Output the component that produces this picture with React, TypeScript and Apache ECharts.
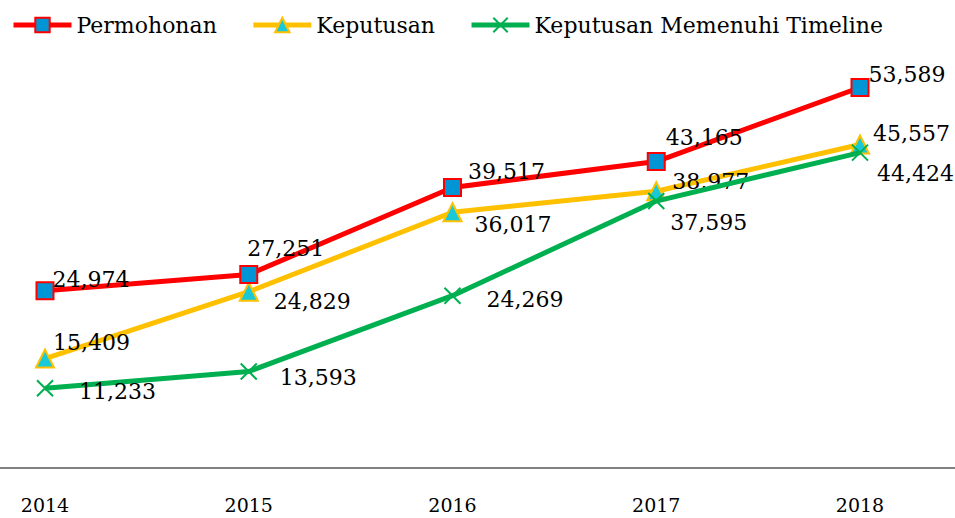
import React, { useEffect, useRef } from "react";
import * as echarts from "echarts";

const years = ["2014", "2015", "2016", "2017", "2018"];
const permohonan = [24974, 27251, 39517, 43165, 53589];
const keputusan = [15409, 24829, 36017, 38977, 45557];
const memenuhi = [11233, 13593, 24269, 37595, 44424];

const permohonanOffsets = [[-2, -11], [-11, -26], [6, -16], [0, -24], [-1, -13]];
const keputusanOffsets = [[-2, -16], [15, 10], [12, 12], [6, -10], [3, -11]];
const memenuhiOffsets = [[25, 3], [22, 6], [25, 4], [5, 21], [8, 21]];

const FONT = "DejaVu Serif";

function withLabels(values: number[], offsets: number[][]) {
  return values.map((v, i) => ({
    value: v,
    label: { offset: offsets[i] },
  }));
}

export default function App() {
  const ref = useRef<HTMLDivElement>(null);
  useEffect(() => {
    if (!ref.current) return;
    const chart = echarts.init(ref.current, undefined, { renderer: "svg" });
    const labelBase = {
      show: true,
      position: "right",
      distance: 0,
      color: "#000",
      fontFamily: FONT,
      fontSize: 22,
      formatter: (p: any) => Number(p.value).toLocaleString("en-US"),
    };
    chart.setOption({
      animation: false,
      backgroundColor: "#fff",
      textStyle: { fontFamily: FONT },
      legend: {
        left: 6,
        top: 9,
        itemWidth: 58,
        itemHeight: 18,
        itemGap: 34,
        lineStyle: { width: 5 },
        textStyle: { fontFamily: FONT, fontSize: 22, color: "#000" },
        data: ["Permohonan", "Keputusan", "Keputusan Memenuhi Timeline"],
      },
      grid: { left: 45, right: 95, top: 42, bottom: 50 },
      graphic: [
        {
          type: "line",
          shape: { x1: 0, y1: 468, x2: 955, y2: 468 },
          style: { stroke: "#808080", lineWidth: 2 },
          z: 1,
        },
      ],
      xAxis: {
        type: "category",
        data: years,
        boundaryGap: false,
        axisLine: { show: false },
        axisTick: { show: false },
        axisLabel: { color: "#000", fontFamily: FONT, fontSize: 19, margin: 27 },
      },
      yAxis: {
        type: "value",
        min: 0,
        max: 60000,
        show: false,
        splitLine: { show: false },
      },
      series: [
        {
          name: "Permohonan",
          type: "line",
          data: withLabels(permohonan, permohonanOffsets),
          symbol: "rect",
          symbolSize: 17,
          lineStyle: { color: "#FF0000", width: 5 },
          itemStyle: { color: "#0096D6", borderColor: "#FF0000", borderWidth: 2 },
          label: labelBase,
          z: 3,
        },
        {
          name: "Keputusan",
          type: "line",
          data: withLabels(keputusan, keputusanOffsets),
          symbol: "triangle",
          symbolSize: 18,
          lineStyle: { color: "#FFC000", width: 5 },
          itemStyle: { color: "#17C9D9", borderColor: "#FFC000", borderWidth: 2 },
          label: labelBase,
          z: 2,
        },
        {
          name: "Keputusan Memenuhi Timeline",
          type: "line",
          data: withLabels(memenuhi, memenuhiOffsets),
          symbol: "path://M0,0L10,10M10,0L0,10",
          symbolSize: 16,
          lineStyle: { color: "#00B050", width: 5 },
          itemStyle: { color: "#00B050", borderColor: "#00B050", borderWidth: 2 },
          label: labelBase,
          z: 4,
        },
      ],
    });
    return () => chart.dispose();
  }, []);
  return (
    <div
      ref={ref}
      style={{ position: "fixed", left: 0, top: 0, width: 955, height: 518 }}
    />
  );
}
